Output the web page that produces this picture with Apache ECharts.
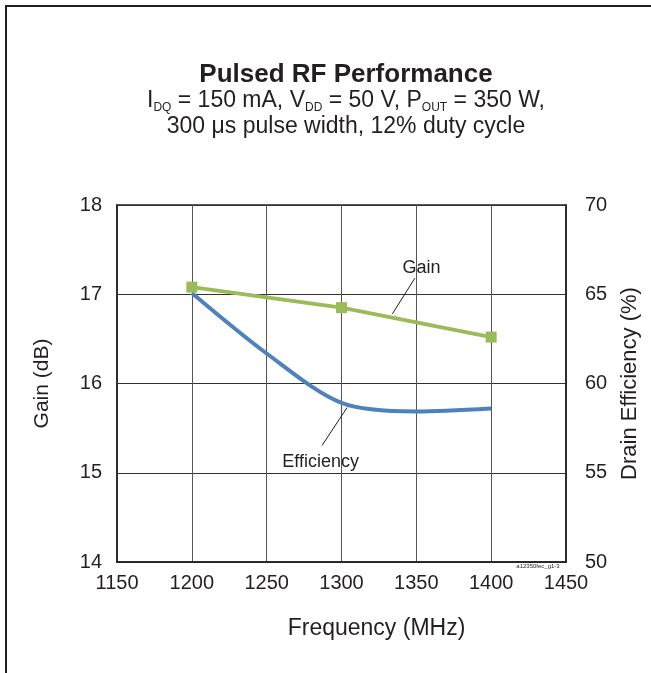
<!DOCTYPE html>
<html>
<head>
<meta charset="utf-8">
<script src="https://cdn.jsdelivr.net/npm/echarts@6/dist/echarts.min.js"></script>
<style>
    html, body { margin: 0; padding: 0; background: #fff; }
    #chart { width: 651px; height: 673px; }
</style>
</head>
<body>
<div id="chart"></div>
<script>
// gain points (MHz / dB, left axis)
var gainFreq = [1200, 1300, 1400]
var gainValues = [17.08, 16.85, 16.52]

// efficiency curve (MHz / %, right axis)
var effFreq = [1200, 1250, 1300, 1350, 1400]
var effValues = [65.07, 61.68, 58.91, 58.43, 58.6]

var font = 'Liberation Sans, Arial, sans-serif'

var myChart = echarts.init(document.getElementById('chart'))

var option = {
    backgroundColor: '#fff',
    animation: false,
    title: {
        left: 341,
        top: 57,
        textAlign: 'center',
        text: 'Pulsed RF Performance',
        textStyle: { fontFamily: font, fontSize: 26, fontWeight: 'bold', color: '#231f20' },
        subtext: '{n|I}{s|DQ}{n| = 150 mA, V}{s|DD}{n| = 50 V, P}{s|OUT}{n| = 350 W,}\n{n|300 μs pulse width, 12% duty cycle}',
        itemGap: 0,
        subtextStyle: {
            fontFamily: font,
            color: '#231f20',
            lineHeight: 26,
            rich: {
                n: { fontFamily: font, fontSize: 23, color: '#231f20', lineHeight: 26 },
                s: { fontFamily: font, fontSize: 12, color: '#231f20', lineHeight: 26, verticalAlign: 'bottom', padding: [11, 0, 0, 0] }
            }
        }
    },
    grid: {
        left: 117,
        right: 85,
        top: 205,
        bottom: 111,
        show: true,
        borderColor: '#231f20',
        borderWidth: 1.5
    },
    xAxis: {
        type: 'value',
        min: 1150,
        max: 1450,
        interval: 50,
        name: 'Frequency (MHz)',
        nameLocation: 'middle',
        nameGap: 55,
        nameTextStyle: { fontFamily: font, fontSize: 23, color: '#231f20', padding: [0, 0, 0, 70] },
        axisLine: { lineStyle: { color: '#231f20', width: 1.5 } },
        axisTick: { show: false },
        axisLabel: { fontFamily: font, fontSize: 20, color: '#231f20', margin: 11, formatter: function (v) { return String(v) } },
        splitLine: { show: true, lineStyle: { color: '#555', width: 1 } }
    },
    yAxis: [
        {
            type: 'value',
            min: 14,
            max: 18,
            interval: 1,
            name: 'Gain (dB)',
            nameLocation: 'middle',
            nameGap: 64,
            nameTextStyle: { fontFamily: font, fontSize: 21, color: '#231f20' },
            axisLine: { show: true, lineStyle: { color: '#231f20', width: 1.5 } },
            axisTick: { show: false },
            axisLabel: { fontFamily: font, fontSize: 20, color: '#231f20', margin: 15 },
            splitLine: { show: true, lineStyle: { color: '#333', width: 1 } }
        },
        {
            type: 'value',
            min: 50,
            max: 70,
            interval: 5,
            name: 'Drain Efficiency (%)',
            nameLocation: 'middle',
            nameGap: 53,
            nameRotate: 90,
            nameTextStyle: { fontFamily: font, fontSize: 22, color: '#231f20' },
            axisLine: { show: true, lineStyle: { color: '#231f20', width: 1.5 } },
            axisTick: { show: false },
            axisLabel: { fontFamily: font, fontSize: 20, color: '#231f20', margin: 19 },
            splitLine: { show: false }
        }
    ],
    series: [
        {
            name: 'Efficiency',
            type: 'line',
            yAxisIndex: 1,
            smooth: 0.3,
            showSymbol: false,
            lineStyle: { color: '#4f81bd', width: 4 },
            data: effFreq.map(function (f, i) { return [f, effValues[i]] })
        },
        {
            name: 'Gain',
            type: 'line',
            yAxisIndex: 0,
            symbol: 'rect',
            symbolSize: 11,
            itemStyle: { color: '#9bbb59' },
            lineStyle: { color: '#9bbb59', width: 4 },
            data: gainFreq.map(function (f, i) { return [f, gainValues[i]] })
        }
    ]
}

myChart.setOption(option)

// annotations placed in data space (left axis units), converted to pixels
function px(x, y) {
    return myChart.convertToPixel({ xAxisIndex: 0, yAxisIndex: 0 }, [x, y])
}
var gA = px(1334, 16.78), gB = px(1349, 17.18), gT = px(1353.5, 17.29)
var eA = px(1303.7, 15.73), eB = px(1287, 15.305), eT = px(1286, 15.12)

myChart.setOption({
    graphic: [
        // outer frame (top and left edges)
        { type: 'line', shape: { x1: 5, y1: 6, x2: 651, y2: 6 }, style: { stroke: '#231f20', lineWidth: 2 } },
        { type: 'line', shape: { x1: 6, y1: 5, x2: 6, y2: 673 }, style: { stroke: '#231f20', lineWidth: 2 } },
        // leader lines
        { type: 'line', shape: { x1: gA[0], y1: gA[1], x2: gB[0], y2: gB[1] }, style: { stroke: '#231f20', lineWidth: 1 }, z: 10 },
        { type: 'line', shape: { x1: eA[0], y1: eA[1], x2: eB[0], y2: eB[1] }, style: { stroke: '#231f20', lineWidth: 1 }, z: 10 },
        { type: 'text', x: gT[0], y: gT[1], style: { text: 'Gain', font: '18px ' + font, fill: '#231f20', textAlign: 'center', textVerticalAlign: 'middle' }, z: 10 },
        { type: 'text', x: eT[0], y: eT[1], style: { text: 'Efficiency', font: '18px ' + font, fill: '#231f20', textAlign: 'center', textVerticalAlign: 'middle' }, z: 10 },
        // figure id
        { type: 'text', x: 538, y: 566, style: { text: 'a12350fec_g1-3', font: '6px ' + font, fill: '#231f20', textAlign: 'center', textVerticalAlign: 'middle' }, z: 10 }
    ]
})
</script>
</body>
</html>
